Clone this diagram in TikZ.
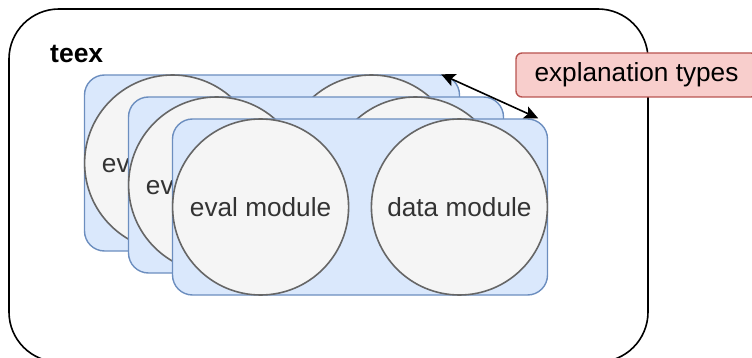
\documentclass[tikz,border=0pt]{standalone}
\usepackage{fontspec}
\setmainfont{Liberation Sans}
\usetikzlibrary{arrows.meta}

\definecolor{panelfill}{HTML}{DAE8FC}
\definecolor{panelline}{HTML}{6C8EBF}
\definecolor{modfill}{HTML}{F5F5F5}
\definecolor{modline}{HTML}{666666}
\definecolor{modtext}{HTML}{333333}
\definecolor{notefill}{HTML}{F8CECC}
\definecolor{noteline}{HTML}{B85450}

\tikzset{
  container/.style={draw=black, line width=1.6pt, rounded corners=50pt,
    minimum width=639pt, minimum height=353pt, inner sep=0pt},
  panel/.style={draw=panelline, fill=panelfill, line width=1.4pt,
    rounded corners=20pt, minimum width=375pt, minimum height=176pt, inner sep=0pt},
  module/.style={circle, draw=modline, fill=modfill, line width=1.6pt,
    minimum size=176pt, inner sep=0pt, text=modtext,
    font=\fontsize{26.2}{31}\selectfont},
  note/.style={draw=noteline, fill=notefill, line width=1.4pt,
    rounded corners=6pt, minimum width=241pt, minimum height=44pt, inner sep=0pt,
    font=\fontsize{26.2}{31}\selectfont},
  link/.style={draw=black, line width=1.6pt,
    {Stealth[length=14pt,width=13pt,inset=3pt]}-{Stealth[length=14pt,width=13pt,inset=3pt]}}
}

\begin{document}
\begin{tikzpicture}[x=1pt,y=-1pt]
\useasboundingbox (0,0) rectangle (752,358);
\clip (0,0) rectangle (752,358);

% outer package frame
\node[container] (pkg) at (328.5,185.5) {};
\node[anchor=base west, inner sep=0pt, font=\bfseries\fontsize{26.5}{31}\selectfont]
  (pkgname) at (50,63) {teex};

% stacked module panels, back to front
\node[panel] (p1) at (272,163) {};
\node[module, anchor=west] (e1) at (p1.west) {eval module};
\node[module, anchor=east] (d1) at (p1.east) {data module};

\node[panel] (p2) at (316,185) {};
\node[module, anchor=west] (e2) at (p2.west) {eval module};
\node[module, anchor=east] (d2) at (p2.east) {data module};

\node[panel] (p3) at (360,207) {};
\node[module, anchor=west] (e3) at (p3.west) {eval module};
\node[module, anchor=east] (d3) at (p3.east) {data module};

% label for the stack
\node[note] (types) at (636.5,75) {explanation types};

\coordinate (backtip) at ([xshift=-19pt]p1.north east);
\coordinate (fronttip) at ([xshift=-10pt]p3.north east);
\draw[link] (backtip) -- (fronttip);
\end{tikzpicture}
\end{document}
